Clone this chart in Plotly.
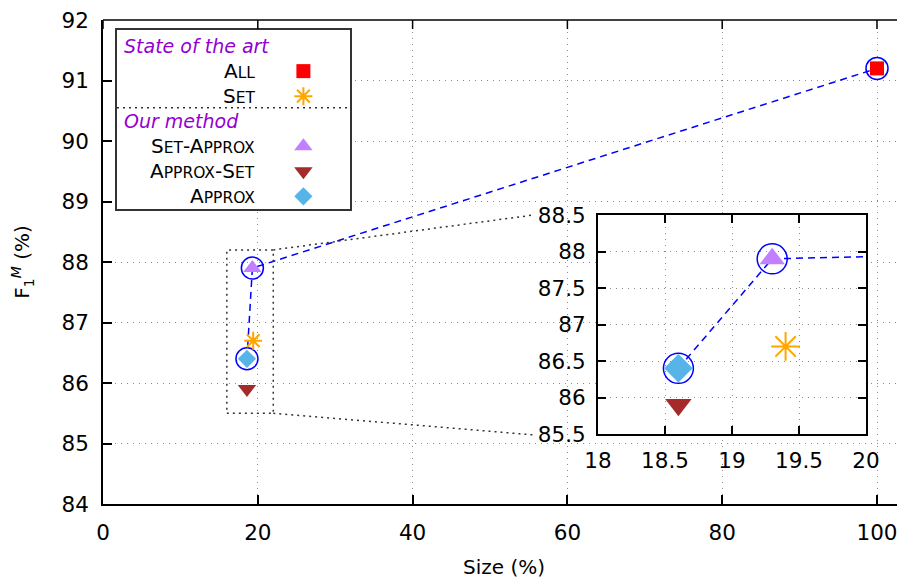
import plotly.graph_objects as go

# ---------------- data ----------------
methods = ["All", "Set", "Set-Approx", "Approx-Set", "Approx"]
size_pct = [100.0, 19.4, 19.3, 18.6, 18.6]
f1_macro = [91.2, 86.7, 87.9, 85.9, 86.4]
pareto_methods = ["Approx", "Set-Approx", "All"]
group_titles = ["State of the art", "Our method"]
group_members = [["All", "Set"], ["Set-Approx", "Approx-Set", "Approx"]]

x_ticks = [0, 20, 40, 60, 80, 100]
y_ticks = [84, 85, 86, 87, 88, 89, 90, 91, 92]
inset_x_ticks = [18, 18.5, 19, 19.5, 20]
inset_y_ticks = [85.5, 86, 86.5, 87, 87.5, 88, 88.5]
zoom_box_x = [16, 22]
zoom_box_y = [85.5, 88.2]

# ---------------- styles ----------------
style = {
    "All":        dict(symbol="square", color="#ff0000", s_main=14, s_inset=22, s_leg=14),
    "Set":        dict(symbol="asterisk-open", color="#ffa500", s_main=15, s_inset=24, s_leg=15),
    "Set-Approx": dict(symbol="triangle-up", color="#c080ff", s_main=16, s_inset=22, s_leg=16),
    "Approx-Set": dict(symbol="triangle-down", color="#a52a2a", s_main=16, s_inset=23, s_leg=16),
    "Approx":     dict(symbol="diamond", color="#56b4e9", s_main=14, s_inset=22, s_leg=14),
}
FONT = "DejaVu Sans"
OFF = 8  # page body margin
W, H = 905 - OFF, 579 - OFF
ML, MR, MT, MB = 103 - OFF, 0, 20 - OFF, 75
pw, ph = W - ML - MR, H - MT - MB
EPS = 1e-4
TICKLEN = 9


def px_x(p):
    return (p - OFF - ML) / pw


def px_y(p):
    return (H - MB - (p - OFF)) / ph


def smallcaps(name, small=15.5):
    parts = []
    for w in name.split("-"):
        parts.append(w[0].upper() + f"<span style='font-size:{small}px'>{w[1:].upper()}</span>")
    return "-".join(parts)


idx = {m: i for i, m in enumerate(methods)}
px_ = [size_pct[idx[m]] for m in pareto_methods]
py_ = [f1_macro[idx[m]] for m in pareto_methods]

fig = go.Figure()

for axis, (xa, ya), skey, ring in [("main", ("x", "y"), "s_main", 22), ("inset", ("x2", "y2"), "s_inset", 30)]:
    fig.add_trace(go.Scatter(
        x=px_, y=py_, xaxis=xa, yaxis=ya, mode="lines+markers",
        line=dict(color="#0000ff", width=1.5, dash="7px,5px"),
        marker=dict(symbol="circle-open", size=ring, color="#0000ff", line=dict(width=1.5)),
        showlegend=False, hoverinfo="skip"))
    for m in methods:
        st = style[m]
        is_open = st["symbol"].endswith("open")
        fig.add_trace(go.Scatter(
            x=[size_pct[idx[m]]], y=[f1_macro[idx[m]]], xaxis=xa, yaxis=ya, mode="markers",
            marker=dict(symbol=st["symbol"], size=st[skey], color=st["color"],
                        line=dict(width=2 if is_open else 0, color=st["color"])),
            showlegend=False, name=m, cliponaxis=True))

# ---------------- custom legend (subplot x3/y3) ----------------
annotations = []
shapes = []
n_rows = sum(1 + len(g) for g in group_members)
row_h = 1.0 / (n_rows + 0.15)
row = 0
for gi, (title, members) in enumerate(zip(group_titles, group_members)):
    yt = 1 - (row + 0.5) * row_h - 0.02
    annotations.append(dict(x=0.02, y=yt, xref="x3", yref="y3", text=f"<i>{title}</i>",
                            showarrow=False, xanchor="left", yanchor="middle",
                            font=dict(family=FONT, size=19, color="#9400d3")))
    row += 1
    for m in members:
        yr = 1 - (row + 0.5) * row_h - 0.02
        annotations.append(dict(x=0.60, y=yr, xref="x3", yref="y3", text=smallcaps(m),
                                showarrow=False, xanchor="right", yanchor="middle",
                                font=dict(family=FONT, size=20, color="black")))
        st = style[m]
        is_open = st["symbol"].endswith("open")
        fig.add_trace(go.Scatter(
            x=[0.80], y=[yr], xaxis="x3", yaxis="y3", mode="markers",
            marker=dict(symbol=st["symbol"], size=st["s_leg"], color=st["color"],
                        line=dict(width=2 if is_open else 0, color=st["color"])),
            showlegend=False, hoverinfo="skip"))
        row += 1
    if gi == 0:
        ys = 1 - row * row_h - 0.02 + 0.005
        shapes.append(dict(type="line", xref="x3", yref="y3", x0=0, x1=1.02, y0=ys, y1=ys,
                           line=dict(color="#333333", width=1.5, dash="2px,4px")))

# ---------------- top border of the main frame, with its inward ticks ----------------
shapes.append(dict(type="line", xref="x domain", yref="y domain", x0=0, x1=1, y0=1, y1=1,
                   line=dict(color="black", width=1.5), layer="above"))
for t in x_ticks:
    shapes.append(dict(type="line", xref="x", yref="y domain", x0=t, x1=t, y0=1, y1=1 - TICKLEN / ph,
                       line=dict(color="black", width=1.5), layer="above"))

# ---------------- zoom box + connectors ----------------
dot = dict(color="#333333", width=1.5, dash="2px,4px")
shapes.append(dict(type="rect", xref="x", yref="y", x0=zoom_box_x[0], x1=zoom_box_x[1],
                   y0=zoom_box_y[0], y1=zoom_box_y[1], line=dot, layer="above"))
shapes.append(dict(type="line", xref="x", yref="y", x0=zoom_box_x[1], y0=zoom_box_y[1],
                   x1=55.8, y1=88.78, line=dot))
shapes.append(dict(type="line", xref="x", yref="y", x0=zoom_box_x[1], y0=zoom_box_y[0],
                   x1=55.8, y1=85.14, line=dot))

grid = dict(showgrid=True, gridcolor="#8c8c8c", griddash="1px,5px", gridwidth=1, zeroline=False)
tickfont = dict(family=FONT, size=21.5, color="black")
x_range = [0, pw / 7.74]

fig.update_layout(
    width=W, height=H,
    margin=dict(l=ML, r=MR, t=MT, b=MB),
    paper_bgcolor="white", plot_bgcolor="white",
    font=dict(family=FONT, size=20, color="black"),
    showlegend=False,
    annotations=annotations,
    shapes=shapes,
    xaxis=dict(domain=[0, 1], range=x_range, tickvals=x_ticks, ticks="inside", ticklen=TICKLEN,
               tickwidth=1.5, tickcolor="black", showline=True, linecolor="black", linewidth=1.5,
               mirror=False, tickfont=tickfont, ticklabelstandoff=8, automargin=False,
               ticklabeloverflow="allow",
               title=dict(text="Size (%)", font=dict(family=FONT, size=20), standoff=16), **grid),
    yaxis=dict(domain=[0, 1], range=[84 - EPS, 92 + EPS], tickvals=y_ticks, ticks="inside",
               ticklen=TICKLEN, tickwidth=1.5, tickcolor="black", showline=True, linecolor="black",
               linewidth=1.5, mirror=False, tickfont=tickfont, ticklabelstandoff=8, automargin=False,
               ticklabeloverflow="allow",
               title=dict(text="F<sub>1</sub><sup><i>M</i></sup> (%)", font=dict(family=FONT, size=20),
                          standoff=30), **grid),
    xaxis2=dict(domain=[px_x(598), px_x(866)], anchor="y2", range=[18, 20], tickvals=inset_x_ticks,
                ticktext=[f"{v:g}" for v in inset_x_ticks],
                ticks="inside", ticklen=8, tickwidth=1.5, tickcolor="black", showline=True,
                linecolor="black", linewidth=2, mirror="ticks", tickfont=tickfont,
                ticklabelstandoff=6, automargin=False, ticklabeloverflow="allow", **grid),
    yaxis2=dict(domain=[px_y(434), px_y(215)], anchor="x2", range=[85.5, 88.5], tickvals=inset_y_ticks,
                ticktext=[f"{v:g}" for v in inset_y_ticks],
                ticks="inside", ticklen=8, tickwidth=1.5, tickcolor="black", showline=True,
                linecolor="black", linewidth=2, mirror="ticks", tickfont=tickfont,
                ticklabelstandoff=6, automargin=False, ticklabeloverflow="allow", **grid),
    xaxis3=dict(domain=[px_x(117), px_x(350)], anchor="y3", range=[0, 1], showgrid=False,
                zeroline=False, showticklabels=False, ticks="", showline=True, mirror=True,
                linecolor="#333333", linewidth=1.5, fixedrange=True),
    yaxis3=dict(domain=[px_y(209), px_y(30)], anchor="x3", range=[0, 1], showgrid=False,
                zeroline=False, showticklabels=False, ticks="", showline=True, mirror=True,
                linecolor="#333333", linewidth=1.5, fixedrange=True),
)

fig.write_html("out.html")
